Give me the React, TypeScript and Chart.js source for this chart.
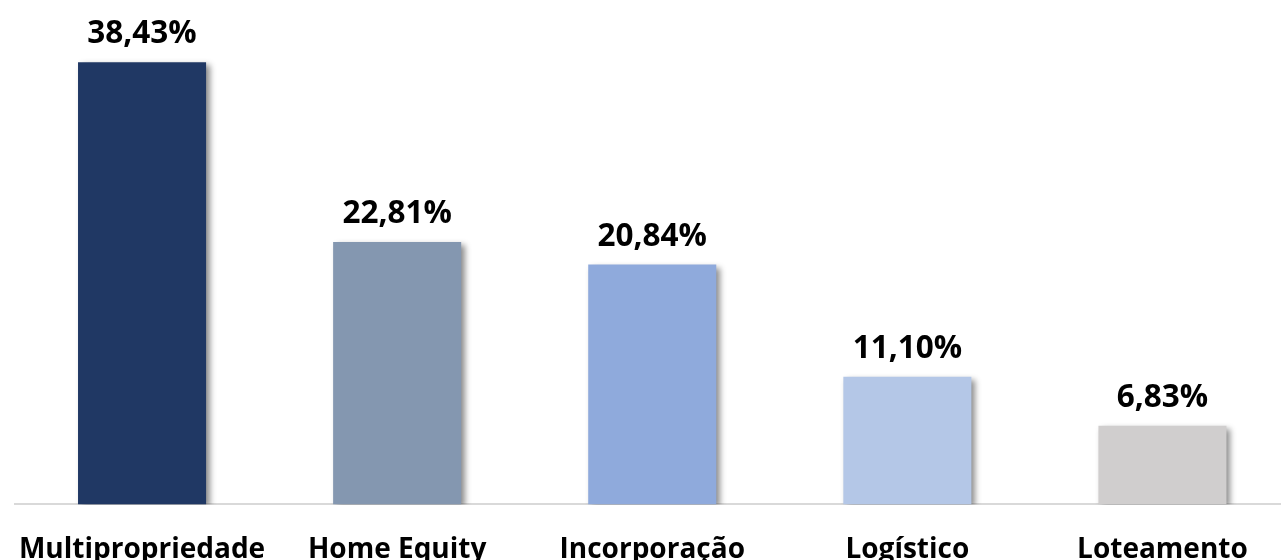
import React, { useEffect, useRef } from "react";
import { Chart, registerables } from "chart.js";

Chart.register(...registerables);

const categories = ["Multipropriedade", "Home Equity", "Incorporação", "Logístico", "Loteamento"];
const shares = [38.43, 22.81, 20.84, 11.1, 6.83];
const barColors = ["#203864", "#8497B0", "#8FAADC", "#B4C7E7", "#D0CECE"];

const FONT = "'Open Sans', 'Noto Sans', sans-serif";

const fmt = (v: number) => v.toFixed(2).replace(".", ",") + "%";

const shadowPlugin = {
  id: "barShadow",
  beforeDatasetsDraw(chart: any) {
    const ctx = chart.ctx;
    ctx.save();
    ctx.shadowColor = "rgba(0,0,0,0.45)";
    ctx.shadowBlur = 6;
    ctx.shadowOffsetX = 4;
    ctx.shadowOffsetY = 3;
  },
  afterDatasetsDraw(chart: any) {
    chart.ctx.restore();
  },
};

const valueLabelPlugin = {
  id: "valueLabels",
  afterDatasetsDraw(chart: any) {
    const ctx = chart.ctx;
    const meta = chart.getDatasetMeta(0);
    ctx.save();
    ctx.font = `bold 31.5px ${FONT}`;
    ctx.fillStyle = "#000000";
    ctx.textAlign = "center";
    ctx.textBaseline = "alphabetic";
    meta.data.forEach((bar: any, i: number) => {
      ctx.fillText(fmt(shares[i]), bar.x, bar.y - 19);
    });
    ctx.restore();
  },
};

export default function App() {
  const ref = useRef<HTMLCanvasElement | null>(null);
  useEffect(() => {
    if (!ref.current) return;
    const chart = new Chart(ref.current, {
      type: "bar",
      data: {
        labels: categories,
        datasets: [
          {
            data: shares,
            backgroundColor: barColors,
            borderWidth: 0,
            categoryPercentage: 1,
            barPercentage: 0.502,
          },
        ],
      },
      options: {
        responsive: false,
        animation: false,
        devicePixelRatio: 1,
        layout: { padding: { left: 14.5, right: 0, top: 0, bottom: 0 } },
        plugins: { legend: { display: false }, tooltip: { enabled: false } },
        scales: {
          x: {
            grid: { display: false, drawTicks: false },
            border: { display: true, color: "#D9D9D9", width: 2 },
            ticks: {
              color: "#000000",
              padding: 29,
              font: { family: FONT, size: 28, weight: "bold", lineHeight: 1.2 },
            },
            afterFit: (scale: any) => {
              scale.paddingLeft = 0;
              scale.paddingRight = 0;
            },
          },
          y: {
            display: false,
            min: 0,
            max: 43.83,
          },
        },
      },
      plugins: [shadowPlugin, valueLabelPlugin],
    });
    return () => chart.destroy();
  }, []);
  return (
    <div style={{ position: "fixed", left: 0, top: 0, width: 1281, height: 560, overflow: "hidden", background: "#fff" }}>
      <canvas ref={ref} width={1290} height={596} style={{ display: "block", width: 1290, height: 596 }} />
    </div>
  );
}
